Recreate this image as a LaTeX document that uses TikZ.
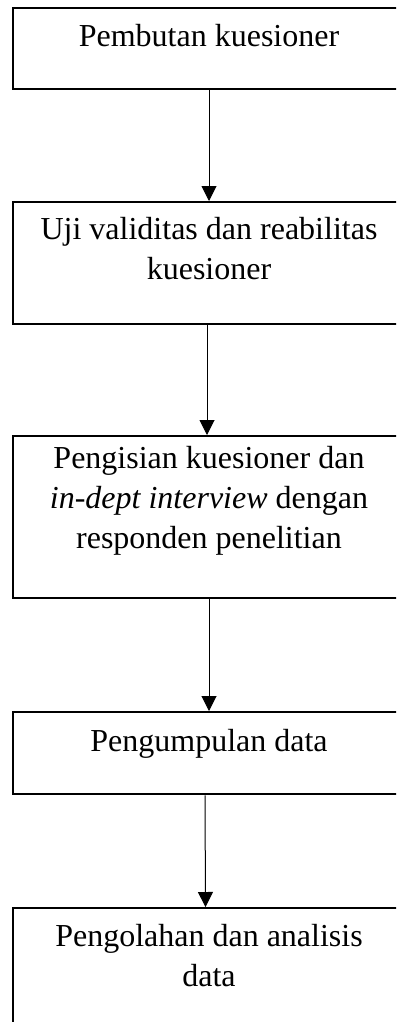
\documentclass[tikz,border=0pt]{standalone}
\usepackage{fontspec}
\setmainfont{Liberation Serif}
\usetikzlibrary{arrows.meta}
\begin{document}
\begin{tikzpicture}[x=1pt,y=-1pt,
  box/.style={draw=black,line width=2pt,minimum width=392pt,inner sep=0pt,anchor=north},
  lbl/.style={inner sep=0pt,align=center,anchor=base,font=\fontsize{32}{40}\selectfont},
  arr/.style={draw=black,line width=1pt,-{Triangle[length=15pt,width=15pt]}}]
\useasboundingbox (0,0) rectangle (396,1022);
\clip (0,0) rectangle (396,1022);
\node[box,minimum height=81.3pt] (b1) at (209,7) {};
\node[box,minimum height=121.7pt] (b2) at (209,201) {};
\node[box,minimum height=161.7pt] (b3) at (209,435) {};
\node[box,minimum height=82.3pt] (b4) at (209,711) {};
\node[box,minimum height=140pt] (b5) at (209,907) {};
\node[lbl] (t1) at (209,47) {Pembutan kuesioner};
\node[lbl] (t2) at (209,279.3) {Uji validitas dan reabilitas\\kuesioner};
\node[lbl] (t3) at (209,548.3) {Pengisian kuesioner dan\\\textit{in-dept interview} dengan\\responden penelitian};
\node[lbl] (t4) at (209,751) {Pengumpulan data};
\node[lbl] (t5) at (209,986.7) {Pengolahan dan analisis\\data};
\draw[arr] (b1.south) -- (b2.north);
\draw[arr] ([xshift=-2pt]b2.south) -- ([xshift=-2pt]b3.north);
\draw[arr] (b3.south) -- (b4.north);
\draw[arr] ([xshift=-4pt]b4.south) -- ([xshift=-3.5pt]b5.north);
\end{tikzpicture}
\end{document}
